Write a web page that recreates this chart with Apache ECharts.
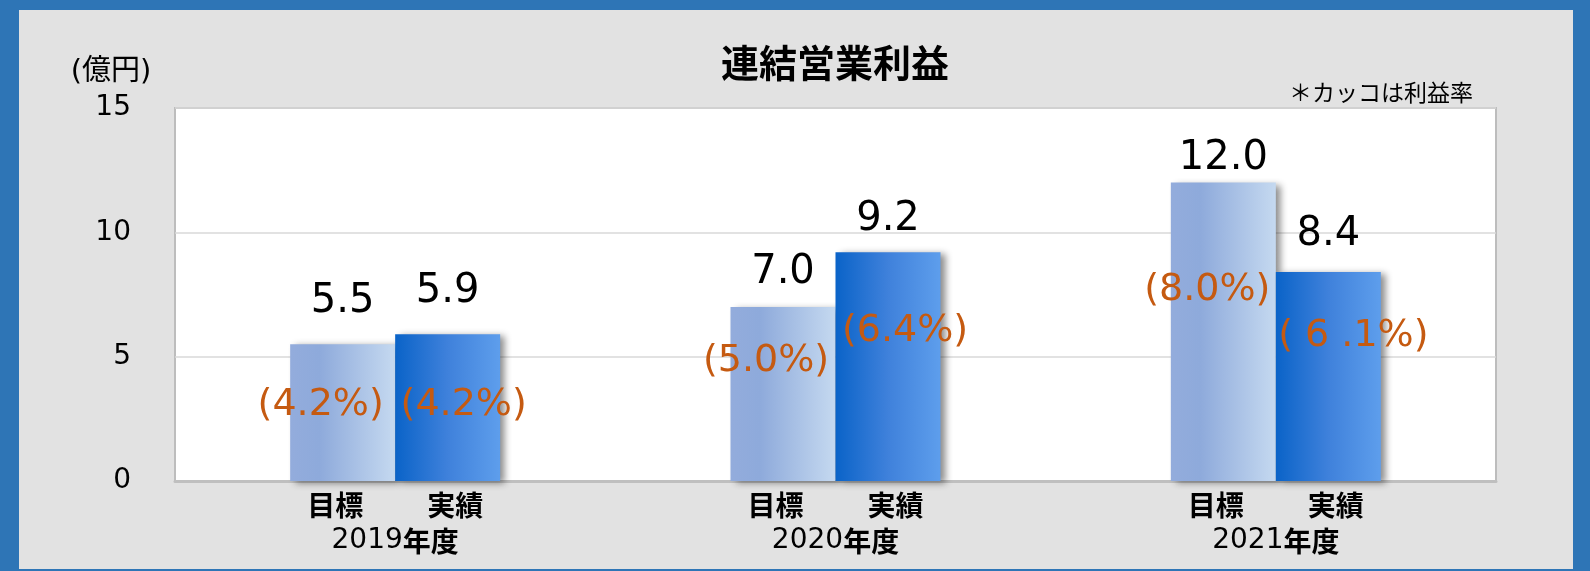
<!DOCTYPE html>
<html>
<head>
<meta charset="utf-8">
<script src="https://cdn.jsdelivr.net/npm/echarts@6/dist/echarts.min.js"></script>
<style>
  html, body { margin:0; padding:0; width:1590px; height:571px; background:#2e75b6; overflow:hidden; }
  #frame { position:absolute; left:19px; top:10px; width:1554px; height:559px; background:#e2e2e2; }
  #chart { width:1554px; height:559px; }
</style>
</head>
<body>
<div id="frame"><div id="chart"></div></div>
<script>
// ---- data ----
const categories = ['2019', '2020', '2021'];
const seriesNames = ['目標', '実績'];
const targetValues = [5.5, 7.0, 12.0];
const actualValues = [5.9, 9.2, 8.4];
const targetRateLabels = ['(4.2%)', '(5.0%)', '(8.0%)'];
const actualRateLabels = ['(4.2%)', '(6.4%)', '( 6 .1%)'];
const yMin = 0, yMax = 15, yInterval = 5;
const chartTitle = '連結営業利益';
const unitLabel = '(億円)';
const noteLabel = '＊カッコは利益率';

// ---- layout (label placement, not data) ----
const targetValueOffset = [[0, -7], [0, 2], [0, 12]];
const actualValueOffset = [[0, -7], [0, 3], [0, -2]];
const targetRateOffset = [[-22, 42], [-17, 35], [-16, 89]];
const actualRateOffset = [[16, 52], [17, 60], [25, 45]];

const FONT = '"Noto Sans CJK JP", "Noto Sans", sans-serif';
const NUMFONT = '"DejaVu Sans", "Noto Sans CJK JP", sans-serif';
const chart = echarts.init(document.getElementById('chart'));

const targetGrad = new echarts.graphic.LinearGradient(0, 0, 1, 0, [
  { offset: 0, color: '#93acdc' },
  { offset: 0.28, color: '#8eaadb' },
  { offset: 1, color: '#c5d9f0' }
]);
const actualGrad = new echarts.graphic.LinearGradient(0, 0, 1, 0, [
  { offset: 0, color: '#0a63c8' },
  { offset: 0.5, color: '#3f81db' },
  { offset: 1, color: '#5e9eec' }
]);
const shadow = { shadowColor: 'rgba(0,0,0,0.45)', shadowBlur: 7, shadowOffsetX: 5, shadowOffsetY: 2 };

function valueData(vals, offs) {
  return vals.map((v, i) => ({ value: v, label: { offset: offs[i] } }));
}
function rateData(vals, labels, offs) {
  return vals.map((v, i) => ({ value: v, label: { formatter: labels[i], offset: offs[i] } }));
}

const barW = 105;
const valueLabel = {
  show: true, position: 'top', distance: 16,
  formatter: p => p.value.toFixed(1),
  fontFamily: NUMFONT, fontSize: 40, color: '#000'
};
const rateLabel = {
  show: true, position: 'insideTop', distance: 0,
  fontFamily: NUMFONT, fontSize: 38, color: '#c55a11'
};

const option = {
  animation: false,
  textStyle: { fontFamily: FONT },
  grid: {
    left: 156, top: 98, right: 77, bottom: 88,
    show: true, backgroundColor: '#ffffff', borderColor: '#bdbdbd', borderWidth: 2
  },
  xAxis: [{
    type: 'category', data: categories,
    axisLine: { lineStyle: { color: '#bfbfbf', width: 3 } },
    axisTick: { show: false },
    axisLabel: {
      margin: 6,
      formatter: v => `{a|${seriesNames[0]}}{b|${seriesNames[1]}}\n{y|${v}}{n|年度}`,
      rich: {
        a: { width: 120, align: 'center', fontWeight: 'bold', fontSize: 28, lineHeight: 36, color: '#000', fontFamily: FONT },
        b: { width: 120, align: 'center', fontWeight: 'bold', fontSize: 28, lineHeight: 36, color: '#000', fontFamily: FONT },
        y: { fontSize: 28, lineHeight: 36, color: '#000', fontFamily: NUMFONT },
        n: { fontSize: 28, lineHeight: 36, fontWeight: 'bold', color: '#000', fontFamily: FONT }
      }
    }
  }, {
    type: 'category', data: categories, show: false
  }],
  yAxis: {
    type: 'value', min: yMin, max: yMax, interval: yInterval,
    axisLine: { show: false }, axisTick: { show: false },
    splitLine: { lineStyle: { color: '#d9d9d9', width: 1.5 } },
    axisLabel: { fontFamily: NUMFONT, fontSize: 28, color: '#000', margin: 44 }
  },
  series: [
    {
      name: seriesNames[0], type: 'bar', barWidth: barW, barGap: '0%',
      data: valueData(targetValues, targetValueOffset),
      itemStyle: Object.assign({ color: targetGrad }, shadow),
      label: valueLabel
    },
    {
      name: seriesNames[1], type: 'bar', barWidth: barW, barGap: '0%',
      data: valueData(actualValues, actualValueOffset),
      itemStyle: Object.assign({ color: actualGrad }, shadow),
      label: valueLabel
    },
    {
      type: 'bar', xAxisIndex: 1, barWidth: barW, barGap: '0%', silent: true,
      data: rateData(targetValues, targetRateLabels, targetRateOffset),
      itemStyle: { color: 'rgba(0,0,0,0)' }, label: rateLabel, z: 5
    },
    {
      type: 'bar', xAxisIndex: 1, barWidth: barW, barGap: '0%', silent: true,
      data: rateData(actualValues, actualRateLabels, actualRateOffset),
      itemStyle: { color: 'rgba(0,0,0,0)' }, label: rateLabel, z: 5
    }
  ],
  graphic: [
    { type: 'text', x: 816, y: 53, style: { text: chartTitle, font: 'bold 38px ' + FONT, fill: '#000', textAlign: 'center', textVerticalAlign: 'middle' } },
    { type: 'text', x: 92, y: 62, style: { text: unitLabel, font: '29px ' + NUMFONT, fill: '#000', textAlign: 'center', textVerticalAlign: 'middle' } },
    { type: 'text', x: 1454, y: 82, style: { text: noteLabel, font: '23px ' + FONT, fill: '#000', textAlign: 'right', textVerticalAlign: 'middle' } }
  ]
};
chart.setOption(option);
</script>
</body>
</html>
